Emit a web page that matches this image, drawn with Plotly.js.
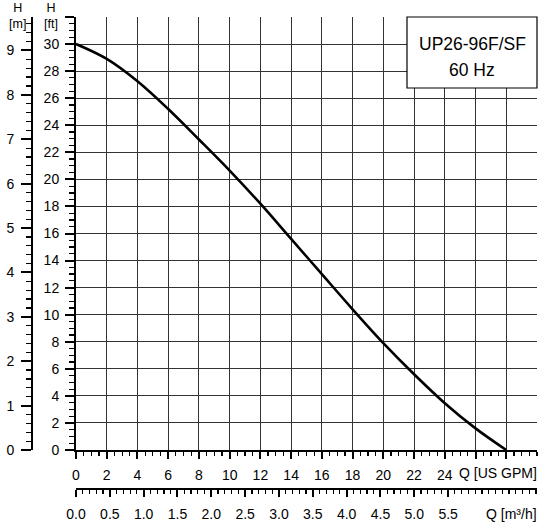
<!DOCTYPE html>
<html>
<head>
<meta charset="utf-8">
<script src="https://cdn.plot.ly/plotly-3.0.1.min.js"></script>
<style>html,body{margin:0;padding:0;background:#fff;}#chart{width:539px;height:525px;}</style>
</head>
<body>
<div id="chart"></div>
<script>
// Flow in US GPM and head in ft
const flowGPM = [0, 2, 4, 6, 8, 10, 12, 14, 16, 18, 20, 22, 24, 26, 28];
const headFt  = [30, 28.9, 27.25, 25.2, 22.95, 20.65, 18.2, 15.6, 13.0, 10.4, 7.9, 5.6, 3.46, 1.6, 0];

// Tick labels
const gpmTicks = [0, 2, 4, 6, 8, 10, 12, 14, 16, 18, 20, 22, 24, 26, 28];
const gpmLabels = ["0","2","4","6","8","10","12","14","16","18","20","22","24","",""];
const ftTicks = [0, 2, 4, 6, 8, 10, 12, 14, 16, 18, 20, 22, 24, 26, 28, 30, 32];
const ftLabels = ["0","2","4","6","8","10","12","14","16","18","20","22","24","26","28","30",""];
const mTicks = [0, 1, 2, 3, 4, 5, 6, 7, 8, 9];
const m3hTicks = [0, 0.5, 1, 1.5, 2, 2.5, 3, 3.5, 4, 4.5, 5, 5.5];
const m3hLabels = ["0.0","0.5","1.0","1.5","2.0","2.5","3.0","3.5","4.0","4.5","5.0","5.5"];

const legendLines = ["UP26-96F/SF", "60 Hz"];

const GPM_TO_M3H = 0.227125;
const FT_TO_M = 0.3048;
const gpmMax = 30, ftMax = 32;

const FAM = "Liberation Sans, Arial, sans-serif";
const font = {family: FAM, size: 14, color: "#000"};
const smallFont = {family: FAM, size: 12.5, color: "#000"};

const traces = [
  {x: flowGPM, y: headFt, xaxis: "x", yaxis: "y", mode: "lines",
   line: {color: "#000", width: 2.6, shape: "spline", smoothing: 1},
   hoverinfo: "skip", showlegend: false},
  {x: flowGPM.map(q => q * GPM_TO_M3H), y: headFt.map(h => h * FT_TO_M),
   xaxis: "x2", yaxis: "y2", mode: "lines", line: {width: 0, color: "rgba(0,0,0,0)"},
   hoverinfo: "skip", showlegend: false}
];

const L = 32, R = 2, T = 17, B = 36, W = 539, H = 525;
const pw = W - L - R, ph = H - T - B;
const xStart = (76 - L) / pw;
const yStart = (489 - 450) / ph;
const px = v => (v - L) / pw;          // pixel x -> paper
const py = v => (H - B - v) / ph;      // pixel y -> paper

const layout = {
  width: W, height: H,
  margin: {l: L, r: R, t: T, b: B, pad: 0},
  paper_bgcolor: "#fff", plot_bgcolor: "#fff",
  font: font,
  showlegend: false,
  xaxis: {
    domain: [xStart, 1], range: [0, gpmMax], anchor: "y",
    tickmode: "array", tickvals: gpmTicks, ticktext: gpmLabels,
    ticks: "outside", ticklen: 7, tickwidth: 2, tickcolor: "#000",
    ticklabelstandoff: 4, tickfont: font,
    showgrid: true, gridcolor: "#333", gridwidth: 1,
    showline: true, linecolor: "#000", linewidth: 2,
    zeroline: false, fixedrange: true,
    minor: {tickmode: "linear", tick0: 0, dtick: 0.5, ticks: "outside", ticklen: 4, tickwidth: 1.2, tickcolor: "#000", showgrid: false}
  },
  yaxis: {
    domain: [yStart, 1], range: [0, ftMax], anchor: "x",
    tickmode: "array", tickvals: ftTicks, ticktext: ftLabels,
    ticks: "outside", ticklen: 9, tickwidth: 2, tickcolor: "#000",
    ticklabelstandoff: 3, tickfont: font,
    showgrid: true, gridcolor: "#333", gridwidth: 1,
    showline: true, linecolor: "#000", linewidth: 2,
    zeroline: false, fixedrange: true,
    minor: {tickmode: "linear", tick0: 0, dtick: 0.5, ticks: "outside", ticklen: 5, tickwidth: 1.2, tickcolor: "#000", showgrid: false}
  },
  xaxis2: {
    overlaying: "x", anchor: "free", position: 0, side: "bottom",
    range: [0, gpmMax * GPM_TO_M3H],
    tickmode: "array", tickvals: m3hTicks, ticktext: m3hLabels,
    ticks: "outside", ticklen: 7, tickwidth: 2, tickcolor: "#000",
    ticklabelstandoff: 5, tickfont: font,
    showgrid: false, showline: true, linecolor: "#000", linewidth: 2,
    zeroline: false, fixedrange: true,
    minor: {tickmode: "linear", tick0: 0, dtick: 0.1, ticks: "outside", ticklen: 4, tickwidth: 1.2, tickcolor: "#000", showgrid: false}
  },
  yaxis2: {
    overlaying: "y", anchor: "free", position: 0, side: "left",
    range: [0, ftMax * FT_TO_M],
    tickmode: "array", tickvals: mTicks,
    ticks: "outside", ticklen: 10, tickwidth: 2, tickcolor: "#000",
    ticklabelstandoff: 4, tickfont: font,
    showgrid: false, showline: true, linecolor: "#000", linewidth: 2,
    zeroline: false, fixedrange: true,
    minor: {tickmode: "linear", tick0: 0, dtick: 0.2, ticks: "outside", ticklen: 5, tickwidth: 1.2, tickcolor: "#000", showgrid: false}
  },
  shapes: [
    {type: "rect", xref: "paper", yref: "paper",
     x0: px(407), x1: px(537), y0: py(88), y1: 1,
     line: {color: "#000", width: 1.2}, fillcolor: "#fff", layer: "above"}
  ],
  annotations: [
    {text: legendLines[0], xref: "paper", yref: "paper", x: px(472), y: py(44),
     showarrow: false, font: {family: FAM, size: 17.5, color: "#000"}, xanchor: "center", yanchor: "middle"},
    {text: legendLines[1], xref: "paper", yref: "paper", x: px(472), y: py(70),
     showarrow: false, font: {family: FAM, size: 17.5, color: "#000"}, xanchor: "center", yanchor: "middle"},
    {text: "H<br>[m]", xref: "paper", yref: "paper", x: px(17), y: py(16),
     showarrow: false, font: smallFont, xanchor: "center", yanchor: "middle"},
    {text: "H<br>[ft]", xref: "paper", yref: "paper", x: px(51), y: py(16),
     showarrow: false, font: smallFont, xanchor: "center", yanchor: "middle"},
    {text: "Q [US GPM]", xref: "paper", yref: "paper", x: px(539), y: py(473),
     showarrow: false, font: font, xanchor: "right", yanchor: "middle"},
    {text: "Q [m³/h]", xref: "paper", yref: "paper", x: px(539), y: py(514),
     showarrow: false, font: font, xanchor: "right", yanchor: "middle"}
  ]
};

Plotly.newPlot("chart", traces, layout, {staticPlot: true, displayModeBar: false});
</script>
</body>
</html>
